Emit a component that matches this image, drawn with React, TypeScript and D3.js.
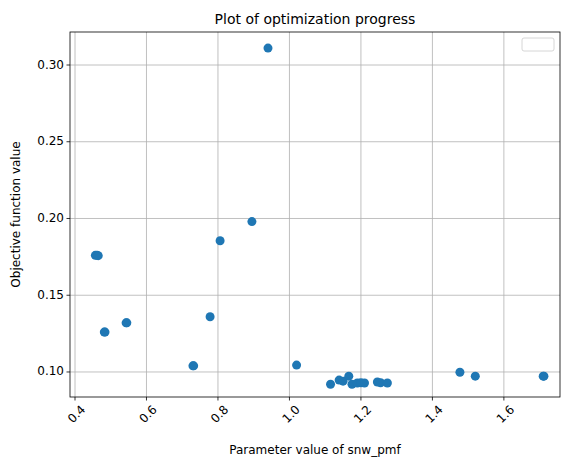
import * as d3 from "d3";

const xs = [0.457, 0.462, 0.465, 0.482, 0.484, 0.543, 0.545, 0.73, 0.732, 0.778, 0.806, 0.895, 0.94, 1.02, 1.115, 1.139, 1.15, 1.166, 1.175, 1.19, 1.2, 1.21, 1.246, 1.255, 1.274, 1.477, 1.52, 1.71, 1.712];
const ys = [0.176, 0.176, 0.1758, 0.126, 0.126, 0.132, 0.132, 0.104, 0.104, 0.136, 0.1855, 0.198, 0.311, 0.1045, 0.092, 0.0947, 0.094, 0.0973, 0.092, 0.0928, 0.093, 0.0928, 0.0935, 0.093, 0.0928, 0.0998, 0.0973, 0.0973, 0.0973];
const xTicks = [0.4, 0.6, 0.8, 1.0, 1.2, 1.4, 1.6];
const yTicks = [0.1, 0.15, 0.2, 0.25, 0.3];

export default function App() {
  const W = 576, H = 466;
  const L = 70, R = 560, T = 32, B = 397;
  const x = d3.scaleLinear().domain([0.386, 1.757]).range([L, R]);
  const y = d3.scaleLinear().domain([0.0837, 0.3215]).range([B, T]);
  const font = "DejaVu Sans, sans-serif";
  return (
    <svg width={W} height={H} style={{ position: "absolute", left: 0, top: 0 }} fontFamily={font}>
      <rect width={W} height={H} fill="white" />
      {xTicks.map(t => <line key={"gx" + t} x1={x(t)} x2={x(t)} y1={T} y2={B} stroke="#b0b0b0" strokeWidth={0.8} />)}
      {yTicks.map(t => <line key={"gy" + t} x1={L} x2={R} y1={y(t)} y2={y(t)} stroke="#b0b0b0" strokeWidth={0.8} />)}
      {xs.map((v, i) => <circle key={i} cx={x(v)} cy={y(ys[i])} r={4.5} fill="#1f77b4" />)}
      <rect x={L} y={T} width={R - L} height={B - T} fill="none" stroke="black" strokeWidth={0.8} />
      {xTicks.map(t => (
        <g key={"tx" + t}>
          <line x1={x(t)} x2={x(t)} y1={B} y2={B + 3.5} stroke="black" strokeWidth={0.8} />
          <text transform={`translate(${x(t) + 5},${B + 7}) rotate(-45)`} textAnchor="end" dominantBaseline="hanging" fontSize={12}>{t.toFixed(1)}</text>
        </g>
      ))}
      {yTicks.map(t => (
        <g key={"ty" + t}>
          <line x1={L - 3.5} x2={L} y1={y(t)} y2={y(t)} stroke="black" strokeWidth={0.8} />
          <text x={L - 6} y={y(t)} textAnchor="end" dominantBaseline="middle" fontSize={12}>{t.toFixed(2)}</text>
        </g>
      ))}
      <rect x={522} y={38} width={32} height={13} rx={2} fill="white" stroke="#cccccc" strokeWidth={0.8} />
      <text x={(L + R) / 2} y={T - 8} textAnchor="middle" fontSize={14}>Plot of optimization progress</text>
      <text x={(L + R) / 2} y={454} textAnchor="middle" fontSize={12}>Parameter value of snw_pmf</text>
      <text transform={`translate(20,${(T + B) / 2}) rotate(-90)`} textAnchor="middle" fontSize={12}>Objective function value</text>
    </svg>
  );
}
